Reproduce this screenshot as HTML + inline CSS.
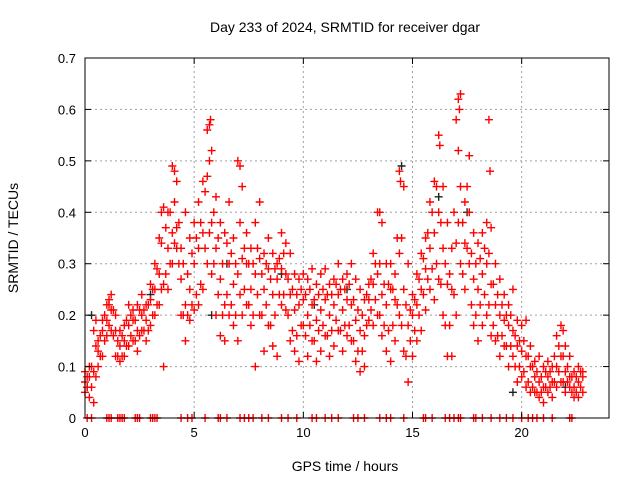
<!DOCTYPE html>
<html><head><meta charset="utf-8"><style>
body{margin:0;background:#fff}
svg{display:block;font-family:"Liberation Sans",sans-serif}
</style></head><body>
<svg id="chart" width="640" height="480" viewBox="0 0 640 480">
<text x="345" y="32" font-size="14" text-anchor="middle">Day 233 of 2024, SRMTID for receiver dgar</text>
<text transform="translate(18,238) rotate(-90)" font-size="14" text-anchor="middle">SRMTID / TECUs</text>
<text x="345" y="471" font-size="14" text-anchor="middle">GPS time / hours</text>
<g id="grid"></g><g id="marks"></g><g id="axes"></g>
</svg>
<script>
const xTicks=[0,5,10,15,20];
const yTicks=[0,0.1,0.2,0.3,0.4,0.5,0.6,0.7];
const yTickLabels=["0","0.1","0.2","0.3","0.4","0.5","0.6","0.7"];
const hrs=[0,0.2,0.4,0.6,0.8,1.0,1.2,1.4,1.6,1.8,2.0,2.2,2.4,2.6,2.8,3.0,3.2,3.4,3.6,3.8,4.0,4.2,4.4,4.6,4.8,5.0,5.2,5.4,5.6,5.8,6.0,6.2,6.4,6.6,6.8,7.0,7.2,7.4,7.6,7.8,8.0,8.2,8.4,8.6,8.8,9.0,9.2,9.4,9.6,9.8,10.0,10.2,10.4,10.6,10.8,11.0,11.2,11.4,11.6,11.8,12.0,12.2,12.4,12.6,12.8,13.0,13.2,13.4,13.6,13.8,14.0,14.2,14.4,14.6,14.8,15.0,15.2,15.4,15.6,15.8,16.0,16.2,16.4,16.6,16.8,17.0,17.2,17.4,17.6,17.8,18.0,18.2,18.4,18.6,18.8,19.0,19.2,19.4,19.6,19.8,20.0,20.2,20.4,20.6,20.8,21.0,21.2,21.4,21.6,21.8,22.0,22.2,22.4,22.6,22.8];
const lowVals=[.05,.04,.03,.10,.12,.16,.17,.12,.11,.12,.14,.15,.13,.17,.15,.18,.20,.22,.10,.25,.30,.33,.20,.15,.19,.21,.22,.25,.30,.28,.20,.16,.15,.20,.18,.15,.20,.22,.18,.10,.20,.13,.18,.14,.12,.22,.21,.15,.13,.11,.18,.12,.15,.11,.13,.16,.12,.14,.17,.13,.16,.15,.11,.09,.10,.19,.18,.20,.16,.13,.11,.15,.20,.13,.07,.12,.15,.17,.21,.25,.23,.27,.20,.12,.12,.20,.30,.25,.30,.18,.15,.18,.20,.16,.15,.12,.14,.10,.12,.07,.08,.06,.05,.05,.04,.03,.05,.04,.06,.07,.05,.06,.04,.04,.05];
const midVals=[.07,.08,.09,.13,.17,.19,.21,.17,.14,.15,.18,.19,.17,.20,.19,.23,.25,.28,.26,.33,.36,.37,.27,.22,.25,.30,.33,.36,.47,.38,.33,.27,.22,.30,.26,.28,.31,.30,.25,.28,.31,.25,.29,.24,.27,.29,.28,.24,.21,.22,.23,.20,.22,.19,.21,.23,.20,.22,.24,.21,.23,.22,.19,.17,.16,.23,.26,.28,.24,.22,.25,.23,.32,.25,.18,.20,.22,.25,.29,.33,.36,.40,.33,.26,.25,.34,.45,.34,.40,.27,.25,.28,.30,.26,.22,.20,.19,.18,.17,.14,.13,.12,.10,.08,.07,.06,.08,.07,.10,.12,.09,.08,.06,.07,.08];
const highVals=[.09,.10,.17,.15,.19,.22,.24,.20,.17,.18,.22,.21,.22,.24,.22,.26,.30,.35,.41,.40,.49,.46,.33,.40,.35,.38,.42,.46,.56,.52,.43,.38,.36,.42,.35,.50,.45,.36,.33,.38,.42,.32,.35,.32,.30,.36,.34,.32,.28,.27,.28,.27,.29,.26,.28,.29,.26,.27,.30,.27,.28,.30,.27,.25,.23,.26,.32,.40,.38,.30,.30,.28,.48,.45,.30,.24,.28,.32,.35,.42,.46,.55,.45,.38,.33,.58,.63,.42,.51,.36,.34,.36,.38,.37,.30,.27,.24,.22,.25,.19,.18,.19,.14,.11,.12,.10,.11,.10,.16,.18,.14,.12,.09,.10,.09];
const hrsB=[0.1,0.3,0.5,0.7,0.9,1.1,1.3,1.5,1.7,1.9,2.1,2.3,2.5,2.7,2.9,3.1,3.3,3.5,3.7,3.9,4.1,4.3,4.5,4.7,4.9,5.1,5.3,5.5,5.7,5.9,6.1,6.3,6.5,6.7,6.9,7.1,7.3,7.5,7.7,7.9,8.1,8.3,8.5,8.7,8.9,9.1,9.3,9.5,9.7,9.9,10.1,10.3,10.5,10.7,10.9,11.1,11.3,11.5,11.7,11.9,12.1,12.3,12.5,12.7,12.9,13.1,13.3,13.5,13.7,13.9,14.1,14.3,14.5,14.7,14.9,15.1,15.3,15.5,15.7,15.9,16.1,16.3,16.5,16.7,16.9,17.1,17.3,17.5,17.7,17.9,18.1,18.3,18.5,18.7,18.9,19.1,19.3,19.5,19.7,19.9,20.1,20.3,20.5,20.7,20.9,21.1,21.3,21.5,21.7,21.9,22.1,22.3,22.5,22.7];
const lowMidVals=[.06,.06,.08,.12,.15,.18,.16,.12,.12,.14,.16,.15,.16,.17,.17,.20,.22,.25,.28,.30,.34,.30,.20,.20,.22,.24,.26,.33,.36,.30,.24,.20,.24,.22,.20,.24,.25,.22,.20,.24,.20,.22,.18,.20,.24,.24,.20,.17,.16,.18,.16,.18,.15,.17,.18,.16,.17,.19,.17,.18,.18,.15,.13,.13,.18,.21,.23,.20,.18,.17,.18,.22,.18,.12,.15,.17,.20,.24,.27,.29,.30,.26,.18,.18,.24,.38,.28,.33,.22,.20,.22,.24,.22,.18,.16,.16,.14,.14,.10,.10,.09,.07,.06,.05,.05,.06,.06,.07,.09,.07,.07,.05,.05,.06];
const highMidVals=[.08,.10,.14,.16,.20,.22,.21,.15,.16,.19,.20,.19,.21,.21,.22,.25,.29,.34,.37,.40,.42,.38,.30,.28,.32,.35,.38,.44,.50,.40,.35,.30,.34,.32,.30,.38,.33,.30,.30,.33,.28,.30,.27,.29,.31,.32,.27,.25,.24,.25,.24,.25,.23,.24,.25,.24,.24,.26,.25,.25,.26,.23,.21,.20,.24,.27,.30,.30,.26,.26,.25,.35,.35,.22,.21,.23,.27,.31,.36,.40,.45,.38,.30,.28,.40,.52,.38,.45,.32,.30,.31,.33,.32,.26,.24,.22,.20,.20,.16,.15,.15,.12,.10,.09,.08,.09,.09,.12,.14,.12,.10,.08,.08,.09];
const extraHrs=[0.1,0.5,1.1,3.5,4.1,5.7,5.75,7.1,13.5,14.45,16.25,17.1,17.15,18.5,18.55,21.9];
const extraVals=[.06,.19,.23,.40,.48,.57,.58,.49,.40,.46,.53,.62,.60,.58,.48,.17];
const blackHrs=[0.3,3.0,5.8,9.0,12.0,14.5,16.2,17.5,19.6,22.0,10.5,6.5];
const blackVals=[.20,.24,.20,.28,.25,.49,.43,.40,.05,.06,.22,.30];
const zeroHrs=[0.1,0.3,1.0,1.1,1.2,1.5,1.6,1.7,1.8,2.3,2.4,2.5,3.0,3.1,3.2,3.3,4.4,4.7,4.9,5.5,6.1,6.2,6.5,7.1,7.3,7.5,7.7,8.1,8.4,9.0,9.3,9.7,10.4,10.6,11.0,11.3,11.6,12.3,12.5,12.8,13.5,13.8,14.0,14.6,15.5,15.6,15.9,16.5,16.7,16.9,17.1,17.2,17.8,17.9,18.2,18.6,19.0,19.3,19.6,20.0,20.3,20.5,20.7,21.0,21.4,22.2,22.3];
const NS="http://www.w3.org/2000/svg";
const X0=85,X1=609,Y0=418,Y1=58;
function xs(h){return X0+(X1-X0)*h/24;}
function ys(v){return Y0-(Y0-Y1)*v/0.7;}
function mk(tag,attrs,parent){const e=document.createElementNS(NS,tag);for(const k in attrs)e.setAttribute(k,attrs[k]);parent.appendChild(e);return e;}
const grid=document.getElementById('grid'),marks=document.getElementById('marks'),axes=document.getElementById('axes');
xTicks.forEach(t=>{
  const x=xs(t);
  if(t>0){const g=mk('line',{x1:x,y1:Y0,x2:x,y2:Y1,stroke:'#a0a0a0','stroke-dasharray':'2,3'},grid);
  
  }
  mk('line',{x1:x,y1:Y0,x2:x,y2:Y0-6,stroke:'#000'},axes);
  mk('line',{x1:x,y1:Y1,x2:x,y2:Y1+6,stroke:'#000'},axes);
  const l=mk('text',{x:x,y:Y0+19,'font-size':13,'text-anchor':'middle'},axes);l.textContent=t;
  
  
});
yTicks.forEach((t,i)=>{
  const y=ys(t);
  if(i>0&&i<yTicks.length-1){const g=mk('line',{x1:X0,y1:y,x2:X1,y2:y,stroke:'#a0a0a0','stroke-dasharray':'2,3'},grid);
  
  }
  mk('line',{x1:X0,y1:y,x2:X0+6,y2:y,stroke:'#000'},axes);
  mk('line',{x1:X1,y1:y,x2:X1-6,y2:y,stroke:'#000'},axes);
  const l=mk('text',{x:X0-9,y:y+5,'font-size':13,'text-anchor':'end'},axes);l.textContent=yTickLabels[i];
  
  
});
const frame=mk('rect',{x:X0,y:Y1,width:X1-X0,height:Y0-Y1,fill:'none',stroke:'#000'},axes);


function plus(h,v,col,name){
  const x=xs(h),y=ys(v);
  const p=mk('path',{d:`M${x-4},${y}H${x+4}M${x},${y-4}V${y+4}`,stroke:col,'stroke-width':1.4,fill:'none'},marks);
  
  
}
blackHrs.forEach((h,i)=>plus(h,blackVals[i],'#222','black-point'));
hrs.forEach((h,i)=>{plus(h,lowVals[i],'#f00','red-point');plus(h,midVals[i],'#f00','red-point');plus(h,highVals[i],'#f00','red-point');});
hrsB.forEach((h,i)=>{plus(h,lowMidVals[i],'#f00','red-point');plus(h,highMidVals[i],'#f00','red-point');});
extraHrs.forEach((h,i)=>plus(h,extraVals[i],'#f00','red-point'));
zeroHrs.forEach(h=>plus(h,0,'#f00','zero-point'));
</script>
</body></html>
